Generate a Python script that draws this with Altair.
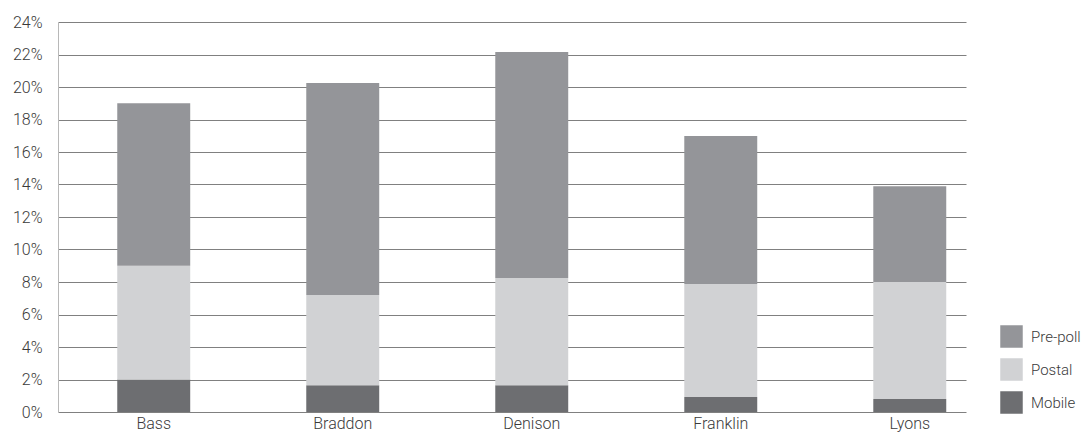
import altair as alt
import pandas as pd

districts = ["Bass", "Braddon", "Denison", "Franklin", "Lyons"]
mobile = [2.0, 1.65, 1.65, 0.92, 0.8]
postal = [7.0, 5.55, 6.6, 6.96, 7.2]
prepoll = [10.0, 13.05, 13.9, 9.1, 5.9]

series_names = ["Pre-poll", "Postal", "Mobile"]
series_colors = ["#949599", "#d1d2d4", "#6d6e71"]
y_ticks = list(range(0, 25, 2))

rows = []
for i, d in enumerate(districts):
    rows.append({"district": d, "type": "Mobile", "ord": 0, "value": mobile[i]})
    rows.append({"district": d, "type": "Postal", "ord": 1, "value": postal[i]})
    rows.append({"district": d, "type": "Pre-poll", "ord": 2, "value": prepoll[i]})
df = pd.DataFrame(rows)

FONT = "Roboto"
TXT = "#3a3a3a"

chart = alt.Chart(df).mark_bar().encode(
    x=alt.X(
        "district:N",
        sort=districts,
        title=None,
        scale=alt.Scale(paddingInner=0.614, paddingOuter=0.209, align=0.75),
        axis=alt.Axis(labelAngle=0, ticks=False, domain=False, labelPadding=3,
                      labelFontSize=16, labelColor=TXT, labelFont=FONT, grid=False),
    ),
    y=alt.Y(
        "value:Q",
        stack="zero",
        title=None,
        scale=alt.Scale(domain=[0, 24], nice=False),
        axis=alt.Axis(values=y_ticks, labelExpr="datum.value + '%'", ticks=False,
                      domain=True, domainColor="#b8b8b8", domainWidth=1,
                      grid=True, gridColor="#808080", gridWidth=1,
                      labelPadding=16, labelFontSize=16, labelColor=TXT, labelFont=FONT),
    ),
    color=alt.Color(
        "type:N",
        scale=alt.Scale(domain=series_names, range=series_colors),
        legend=alt.Legend(
            title=None, orient="none", legendX=942, legendY=303,
            symbolType="square", symbolSize=506, symbolStrokeWidth=0,
            symbolOpacity=1, rowPadding=10, labelOffset=8, padding=0,
            labelFontSize=15, labelColor=TXT, labelFont=FONT, labelFontWeight=300,
        ),
    ),
    order=alt.Order("ord:Q", sort="ascending"),
).properties(
    width=908,
    height=390,
    autosize=alt.AutoSizeParams(type="none"),
    padding={"left": 50, "top": 14, "right": 116, "bottom": 20},
).configure_view(stroke=None).configure_axis(labelFontWeight=300)

chart.save("out.html", embed_options={"renderer": "svg", "actions": False})
